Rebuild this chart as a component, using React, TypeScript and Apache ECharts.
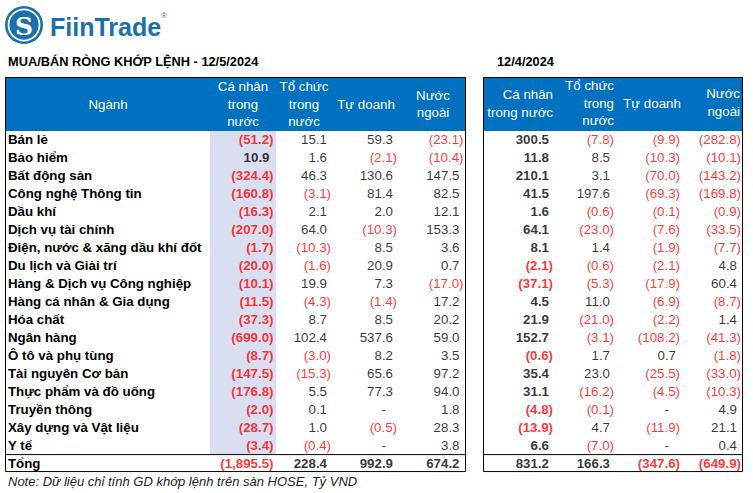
import React, { useEffect, useRef } from "react";
import * as echarts from "echarts";

// ---------- DATA ----------
const sectors = [
  "Bán lẻ",
  "Bảo hiểm",
  "Bất động sản",
  "Công nghệ Thông tin",
  "Dầu khí",
  "Dịch vụ tài chính",
  "Điện, nước & xăng dầu khí đốt",
  "Du lịch và Giải trí",
  "Hàng & Dịch vụ Công nghiệp",
  "Hàng cá nhân & Gia dụng",
  "Hóa chất",
  "Ngân hàng",
  "Ô tô và phụ tùng",
  "Tài nguyên Cơ bản",
  "Thực phẩm và đồ uống",
  "Truyền thông",
  "Xây dựng và Vật liệu",
  "Y tế",
];
const totalLabel = "Tổng";

// 12/5/2024
const mayCaNhan = [-51.2, 10.9, -324.4, -160.8, -16.3, -207.0, -1.7, -20.0, -10.1, -11.5, -37.3, -699.0, -8.7, -147.5, -176.8, -2.0, -28.7, -3.4];
const mayToChuc = [15.1, 1.6, 46.3, -3.1, 2.1, 64.0, -10.3, -1.6, 19.9, -4.3, 8.7, 102.4, -3.0, -15.3, 5.5, 0.1, 1.0, -0.4];
const mayTuDoanh = [59.3, -2.1, 130.6, 81.4, 2.0, -10.3, 8.5, 20.9, 7.3, -1.4, 8.5, 537.6, 8.2, 65.6, 77.3, null, -0.5, null];
const mayNuocNgoai = [-23.1, -10.4, 147.5, 82.5, 12.1, 153.3, 3.6, 0.7, -17.0, 17.2, 20.2, 59.0, 3.5, 97.2, 94.0, 1.8, 28.3, 3.8];
const mayTotals = [-1895.5, 228.4, 992.9, 674.2];

// 12/4/2024
const aprCaNhan = [300.5, 11.8, 210.1, 41.5, 1.6, 64.1, 8.1, -2.1, -37.1, 4.5, 21.9, 152.7, -0.6, 35.4, 31.1, -4.8, -13.9, 6.6];
const aprToChuc = [-7.8, 8.5, 3.1, 197.6, -0.6, -23.0, 1.4, -0.6, -5.3, 11.0, -21.0, -3.1, 1.7, 23.0, -16.2, -0.1, 4.7, -7.0];
const aprTuDoanh = [-9.9, -10.3, -70.0, -69.3, -0.1, -7.6, -1.9, -2.1, -17.9, -6.9, -2.2, -108.2, 0.7, -25.5, -4.5, null, -11.9, null];
const aprNuocNgoai = [-282.8, -10.1, -143.2, -169.8, -0.9, -33.5, -7.7, 4.8, 60.4, -8.7, 1.4, -41.3, -1.8, -33.0, -10.3, 4.9, 21.1, 0.4];
const aprTotals = [831.2, 166.3, -347.6, -649.9];

const title = "MUA/BÁN RÒNG KHỚP LỆNH - 12/5/2024";
const titleRight = "12/4/2024";
const note = "Note: Dữ liệu chỉ tính GD khớp lệnh trên sàn HOSE, Tỷ VND";

// ---------- LAYOUT / STYLE ----------
const W = 753;
const H = 493;
const FONT = "'Liberation Sans', Arial, Helvetica, sans-serif";
const BLUE = "#0070C0";
const RED = "#FF0000";
const HEAD_TOP = 77;
const BODY_TOP = 131;
const ROW_H = 17.95;
const FS = 13.3;

const rows = [...sectors, totalLabel];
const BODY_H = ROW_H * rows.length;

type Col = { values: (number | null)[]; total: number; edge: number; bold: boolean };
const columns: Col[] = [
  { values: mayCaNhan, total: mayTotals[0], edge: 273.5, bold: true },
  { values: mayToChuc, total: mayTotals[1], edge: 331, bold: false },
  { values: mayTuDoanh, total: mayTotals[2], edge: 397, bold: false },
  { values: mayNuocNgoai, total: mayTotals[3], edge: 463.5, bold: false },
  { values: aprCaNhan, total: aprTotals[0], edge: 553, bold: true },
  { values: aprToChuc, total: aprTotals[1], edge: 614, bold: false },
  { values: aprTuDoanh, total: aprTotals[2], edge: 680, bold: false },
  { values: aprNuocNgoai, total: aprTotals[3], edge: 741, bold: false },
];

const fmtNum = (v: number) =>
  Math.abs(v).toLocaleString("en-US", { minimumFractionDigits: 1, maximumFractionDigits: 1 });
const cellText = (v: number | null) => (v == null ? "-" : v < 0 ? `(${fmtNum(v)})` : fmtNum(v));

const headText = (text: string, x: number, y: number, align: string = "center") => ({
  type: "text",
  x,
  y,
  z: 20,
  silent: true,
  style: {
    text,
    fill: "#ffffff",
    fontSize: FS,
    fontFamily: FONT,
    align,
    verticalAlign: "middle",
    lineHeight: 17.5,
  },
});

const tableFrame = (x: number, w: number) => [
  { type: "rect", z: 0, silent: true, shape: { x, y: HEAD_TOP, width: w, height: BODY_TOP - HEAD_TOP }, style: { fill: BLUE } },
  {
    type: "rect",
    z: 30,
    silent: true,
    shape: { x: x + 0.5, y: HEAD_TOP + 0.5, width: w - 1, height: BODY_TOP + BODY_H - HEAD_TOP - 1 },
    style: { fill: "none", stroke: "#000", lineWidth: 1 },
  },
  {
    type: "line",
    z: 30,
    silent: true,
    shape: { x1: x, y1: BODY_TOP + ROW_H * sectors.length + 0.5, x2: x + w, y2: BODY_TOP + ROW_H * sectors.length + 0.5 },
    style: { stroke: "#000", lineWidth: 1 },
  },
];

export default function App() {
  const ref = useRef<HTMLDivElement>(null);

  useEffect(() => {
    document.body.style.margin = "0";
    if (!ref.current) return;
    const chart = echarts.init(ref.current, undefined, { renderer: "svg" });

    const series = columns.map((col) => ({
      type: "scatter",
      symbolSize: 0,
      silent: true,
      z: 5,
      label: { show: true, position: "left", distance: 0, fontSize: FS, fontFamily: FONT },
      data: rows.map((name, i) => {
        const isTotal = i === sectors.length;
        const v = isTotal ? col.total : col.values[i];
        return {
          value: [col.edge, name],
          label: {
            show: true,
            position: "left",
            distance: 0,
            fontSize: FS,
            fontFamily: FONT,
            formatter: cellText(v),
            color: v != null && v < 0 ? RED : "#000",
            fontWeight: col.bold || isTotal ? "bold" : "normal",
            offset: [v == null ? -11 : v < 0 ? 0 : -4, 0],
          },
        };
      }),
    }));

    const option: any = {
      animation: false,
      backgroundColor: "#ffffff",
      grid: { left: 0, right: 0, top: BODY_TOP, height: BODY_H, containLabel: false },
      xAxis: { type: "value", min: 0, max: W, show: false },
      yAxis: {
        type: "category",
        data: rows,
        inverse: true,
        axisLine: { show: false },
        axisTick: { show: false },
        splitLine: { show: false },
        axisLabel: {
          inside: true,
          margin: 8,
          align: "left",
          fontSize: FS,
          fontWeight: "bold",
          fontFamily: FONT,
          color: "#000",
        },
        z: 10,
      },
      graphic: [
        // highlighted column
        {
          type: "rect",
          z: 0,
          silent: true,
          shape: { x: 210, y: BODY_TOP, width: 66, height: ROW_H * sectors.length },
          style: { fill: "#D9DFF1" },
        },
        ...tableFrame(5, 461),
        ...tableFrame(483, 260),
        // left header
        headText("Ngành", 108, 104),
        headText("Cá nhân\ntrong\nnước", 243, 104),
        headText("Tổ chức\ntrong\nnước", 304, 104),
        headText("Tự doanh", 366, 104),
        headText("Nước\nngoài", 433, 104),
        // right header
        headText("Cá nhân\ntrong nước", 553, 103.5, "right"),
        headText("Tổ chức\ntrong\nnước", 614, 103, "right"),
        headText("Tự doanh", 652, 103),
        headText("Nước\nngoài", 740, 102.5, "right"),
        // titles
        {
          type: "text",
          x: 8,
          y: 61,
          silent: true,
          style: { text: title, fill: "#000", fontSize: 12.8, fontWeight: "bold", fontFamily: FONT, verticalAlign: "middle" },
        },
        {
          type: "text",
          x: 497,
          y: 61,
          silent: true,
          style: { text: titleRight, fill: "#000", fontSize: 12.8, fontWeight: "bold", fontFamily: FONT, verticalAlign: "middle" },
        },
        {
          type: "text",
          x: 8,
          y: 481,
          silent: true,
          style: { text: note, fill: "#222", fontSize: 13, fontStyle: "italic", fontFamily: FONT, verticalAlign: "middle" },
        },
        // logo
        { type: "circle", silent: true, shape: { cx: 24, cy: 25, r: 19 }, style: { fill: "#1B6FAA" } },
        { type: "circle", silent: true, shape: { cx: 24, cy: 25, r: 15.5 }, style: { fill: "none", stroke: "#fff", lineWidth: 1.8 } },
        {
          type: "text",
          x: 24,
          y: 26,
          silent: true,
          style: {
            text: "S",
            fill: "#fff",
            fontSize: 25,
            fontWeight: "bold",
            fontFamily: "'DejaVu Serif', serif",
            align: "center",
            verticalAlign: "middle",
          },
        },
        {
          type: "text",
          x: 50,
          y: 27,
          silent: true,
          style: {
            text: "FiinTrade",
            fill: "#1B6FAA",
            fontSize: 25,
            fontWeight: "bold",
            fontFamily: FONT,
            verticalAlign: "middle",
          },
        },
        {
          type: "text",
          x: 161,
          y: 15,
          silent: true,
          style: { text: "®", fill: "#1B6FAA", fontSize: 8, fontFamily: FONT, verticalAlign: "middle" },
        },
      ],
      series,
    };

    chart.setOption(option);
    return () => chart.dispose();
  }, []);

  return (
    <div
      ref={ref}
      style={{ position: "absolute", left: 0, top: 0, width: W, height: H, background: "#fff" }}
    />
  );
}
